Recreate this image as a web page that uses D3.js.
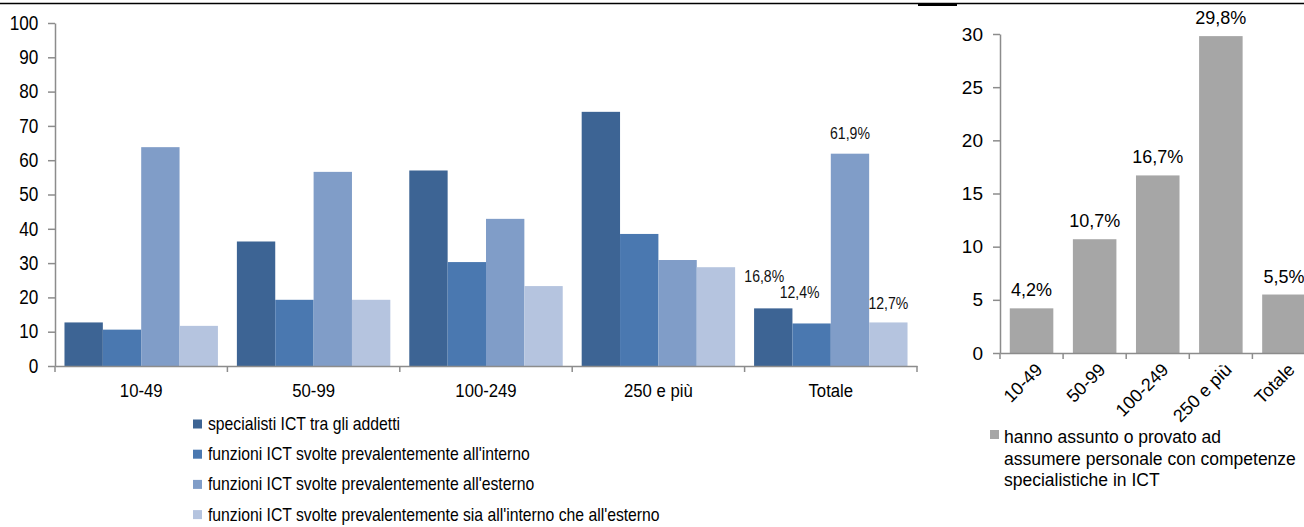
<!DOCTYPE html>
<html>
<head>
<meta charset="utf-8">
<script src="https://cdn.jsdelivr.net/npm/d3@7"></script>
<style>
  body { margin: 0; background: #fff; }
  svg { display: block; font-family: "Liberation Sans", Arial, sans-serif; }
  .axis path, .axis line { stroke: #8c8c8c; stroke-width: 1.5; }
</style>
</head>
<body>
<svg id="chart" width="1304" height="527"></svg>
<script>
// categories (company size classes)
const categories = ["10-49", "50-99", "100-249", "250 e più", "Totale"];

// left chart series
const seriesNames = [
  "specialisti ICT tra gli addetti",
  "funzioni ICT svolte prevalentemente all'interno",
  "funzioni ICT svolte prevalentemente all'esterno",
  "funzioni ICT svolte prevalentemente sia all'interno che all'esterno"
];
const specialisti = [12.7, 36.3, 57.0, 74.1, 16.8];
const interno     = [10.6, 19.3, 30.3, 38.5, 12.4];
const esterno     = [63.8, 56.6, 42.9, 30.9, 61.9];
const entrambi    = [11.7, 19.3, 23.3, 28.8, 12.7];
const seriesColors = ["#3d6494", "#4a78b0", "#809dc8", "#b5c4df"];
const leftTicks = [0, 10, 20, 30, 40, 50, 60, 70, 80, 90, 100];
const labelledCategory = "Totale";

// right chart
const assuntoName = "hanno assunto o provato ad assumere personale con competenze specialistiche in ICT";
const assuntoLines = ["hanno assunto o provato ad", "assumere personale con competenze", "specialistiche in ICT"];
const assunto = [4.2, 10.7, 16.7, 29.8, 5.5];
const rightTicks = [0, 5, 10, 15, 20, 25, 30];

const SX = 0.88; // horizontal squeeze of the narrow text in the original
const pct = v => d3.format(".1f")(v).replace(".", ",") + "%";

const svg = d3.select("#chart");

// thin rule across the top
svg.append("line").attr("x1", 0).attr("x2", 1304).attr("y1", 3.5).attr("y2", 3.5)
   .attr("stroke", "#000").attr("stroke-width", 1.3);
svg.append("rect").attr("x", 918).attr("y", 3).attr("width", 39).attr("height", 3).attr("fill", "#000");

// ---------------- left chart ----------------
const allSeries = [specialisti, interno, esterno, entrambi];
const x0 = d3.scaleBand().domain(categories).range([55, 917]).padding(0);
const bw = x0.bandwidth();
const x1 = d3.scaleBand().domain(d3.range(4)).range([bw * 0.055, bw * 0.945]).padding(0);
const y = d3.scaleLinear().domain([0, 100]).range([366, 23]);

const left = svg.append("g");

const groups = left.selectAll("g.cat").data(categories).enter().append("g")
  .attr("class", "cat").attr("transform", d => "translate(" + x0(d) + ",0)");

groups.selectAll("rect").data((c, ci) => allSeries.map((s, si) => ({c: c, si: si, v: s[ci]})))
  .enter().append("rect")
  .attr("x", d => x1(d.si))
  .attr("width", x1.bandwidth())
  .attr("y", d => y(d.v))
  .attr("height", d => y(0) - y(d.v))
  .attr("fill", d => seriesColors[d.si]);

// value labels only on the Totale group
const shift = [{dx: -9, dy: -26}, {dx: -12, dy: -25}, {dx: 0, dy: -15}, {dx: 0, dy: -13}];
const ti = categories.indexOf(labelledCategory);
allSeries.forEach((s, si) => {
  const cx = x0(labelledCategory) + x1(si) + x1.bandwidth() / 2 + shift[si].dx;
  left.append("g").attr("transform", "translate(" + cx + "," + (y(s[ti]) + shift[si].dy) + ") scale(" + SX + ",1)")
    .append("text").attr("text-anchor", "middle").attr("font-size", 16).attr("fill", "#111")
    .text(pct(s[ti]));
});

// y axis
const yAxis = left.append("g").attr("class", "axis").attr("transform", "translate(55,0)")
  .call(d3.axisLeft(y).tickValues(leftTicks).tickSize(7).tickSizeOuter(0).tickPadding(12));
yAxis.selectAll("text").attr("font-size", 19.5).attr("fill", "#000")
  .attr("font-family", "Liberation Sans, Arial, sans-serif")
  .attr("transform", "scale(" + SX + ",1)");

// x axis: labels centred, ticks on the boundaries
const xAxis = left.append("g").attr("class", "axis").attr("transform", "translate(0,366)")
  .call(d3.axisBottom(x0).tickSize(0).tickSizeOuter(0).tickPadding(18));
xAxis.selectAll("text").attr("font-size", 19).attr("fill", "#000")
  .attr("font-family", "Liberation Sans, Arial, sans-serif")
  .attr("transform", "scale(" + SX + ",1)");
xAxis.selectAll("line.bound").data(categories.map(c => x0(c)).concat([x0.range()[1]]))
  .enter().append("line").attr("class", "bound")
  .attr("x1", d => d).attr("x2", d => d).attr("y1", 0).attr("y2", 6);

// left legend
const legL = left.append("g");
seriesNames.forEach((n, i) => {
  const cy = 424 + i * 30.2;
  legL.append("rect").attr("x", 193).attr("y", cy - 4.5).attr("width", 9).attr("height", 9)
    .attr("fill", seriesColors[i]);
  legL.append("g").attr("transform", "translate(208," + (cy + 6) + ") scale(0.9,1)")
    .append("text").attr("font-size", 17.5).attr("fill", "#000").text(n);
});

// ---------------- right chart ----------------
const xr = d3.scaleBand().domain(categories).range([1000, 1315.5]).padding(0);
const rb = xr.bandwidth();
const yr = d3.scaleLinear().domain([0, 30]).range([353, 34]);
const right = svg.append("g");

right.selectAll("rect").data(assunto).enter().append("rect")
  .attr("x", (d, i) => xr(categories[i]) + rb * 0.155)
  .attr("width", rb * 0.69)
  .attr("y", d => yr(d))
  .attr("height", d => yr(0) - yr(d))
  .attr("fill", "#a6a6a6");

right.selectAll("text.val").data(assunto).enter().append("text").attr("class", "val")
  .attr("x", (d, i) => xr(categories[i]) + rb / 2)
  .attr("y", d => yr(d) - 12)
  .attr("text-anchor", "middle").attr("font-size", 18).attr("fill", "#000")
  .text(d => pct(d));

const yrAxis = right.append("g").attr("class", "axis").attr("transform", "translate(1000,0)")
  .call(d3.axisLeft(yr).tickValues(rightTicks).tickSize(7).tickSizeOuter(0).tickPadding(10));
yrAxis.selectAll("text").attr("font-size", 19).attr("fill", "#000")
  .attr("font-family", "Liberation Sans, Arial, sans-serif");

const xrAxis = right.append("g").attr("class", "axis").attr("transform", "translate(0,353)")
  .call(d3.axisBottom(xr).tickSize(0).tickSizeOuter(0).tickFormat(""));
xrAxis.selectAll("line.bound").data(categories.map(c => xr(c)))
  .enter().append("line").attr("class", "bound")
  .attr("x1", d => d).attr("x2", d => d).attr("y1", 0).attr("y2", 6);
xrAxis.selectAll("text.cat").data(categories).enter().append("text").attr("class", "cat")
  .attr("transform", d => "translate(" + (xr(d) + rb / 2 + 3) + ",9) rotate(-45)")
  .attr("text-anchor", "end").attr("dy", "0.7em").attr("font-size", 18).attr("fill", "#000")
  .text(d => d);

// right legend
right.append("rect").attr("x", 990).attr("y", 430).attr("width", 9).attr("height", 9).attr("fill", "#a6a6a6")
  .append("title").text(assuntoName);
assuntoLines.forEach((l, i) => {
  right.append("text").attr("x", 1004).attr("y", 443 + i * 21.5)
    .attr("font-size", 17.5).attr("fill", "#000").text(l);
});
</script>
</body>
</html>
